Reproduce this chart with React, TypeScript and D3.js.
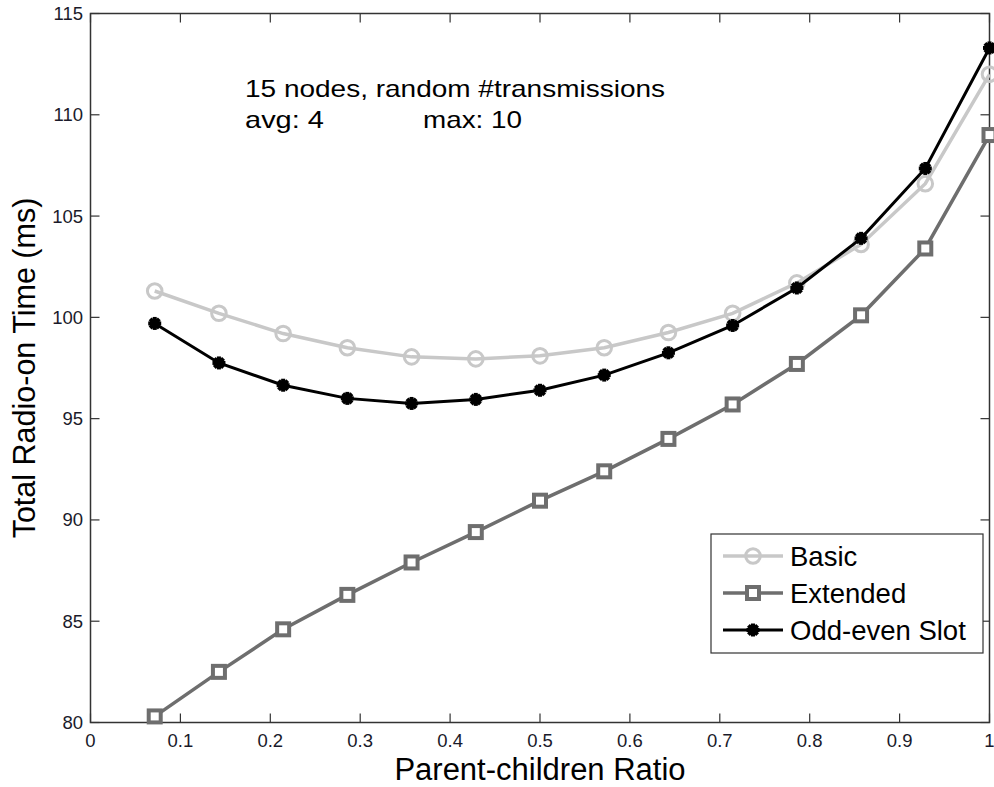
import React from "react";
import * as d3 from "d3";

const ratios = [1, 2, 3, 4, 5, 6, 7, 8, 9, 10, 11, 12, 13, 14].map((k) => k / 14);
const basic = [101.3, 100.2, 99.2, 98.5, 98.05, 97.95, 98.1, 98.5, 99.25, 100.2, 101.7, 103.6, 106.6, 112.0];
const extended = [80.3, 82.5, 84.6, 86.3, 87.9, 89.4, 90.95, 92.4, 94.0, 95.7, 97.7, 100.1, 103.4, 109.0];
const oddEven = [99.7, 97.75, 96.65, 96.0, 95.75, 95.95, 96.4, 97.15, 98.25, 99.6, 101.45, 103.9, 107.35, 113.3];
const xTicks = [0, 0.1, 0.2, 0.3, 0.4, 0.5, 0.6, 0.7, 0.8, 0.9, 1];
const yTicks = [80, 85, 90, 95, 100, 105, 110, 115];
const seriesNames = ["Basic", "Extended", "Odd-even Slot"];

const W = 994, H = 787;
const L = 90.5, R = 989.5, T = 13.5, B = 722.5;
const FONT = "'Liberation Sans', Arial, sans-serif";
const C_BASIC = "#c8c8c8", C_EXT = "#6e6e6e", C_ODD = "#000";

function Marker({ kind, x, y }: { kind: number; x: number; y: number }) {
  if (kind === 0) return <circle cx={x} cy={y} r={7.3} fill="none" stroke={C_BASIC} strokeWidth={3} />;
  if (kind === 1) return <rect x={x - 6} y={y - 6} width={12} height={12} fill="#fff" stroke={C_EXT} strokeWidth={4} />;
  const s = 6.5;
  const d = 4.6;
  return (
    <g stroke={C_ODD} strokeWidth={4} strokeLinecap="butt">
      <circle cx={x} cy={y} r={5.3} fill={C_ODD} stroke="none" />
      <line x1={x - s} y1={y} x2={x + s} y2={y} />
      <line x1={x} y1={y - s} x2={x} y2={y + s} />
      <line x1={x - d} y1={y - d} x2={x + d} y2={y + d} />
      <line x1={x - d} y1={y + d} x2={x + d} y2={y - d} />
    </g>
  );
}

export default function App() {
  const x = d3.scaleLinear().domain([0, 1]).range([L, R]);
  const y = d3.scaleLinear().domain([80, 115]).range([B, T]);
  const line = d3.line<number>().x((_, i) => x(ratios[i])).y((v) => y(v));
  const series = [
    { vals: basic, color: C_BASIC, w: 3.5 },
    { vals: extended, color: C_EXT, w: 3.5 },
    { vals: oddEven, color: C_ODD, w: 3 },
  ];
  const legX = 711, legY = 534, legW = 272, legH = 119;
  return (
    <svg width={W} height={H} style={{ position: "absolute", left: 0, top: 0, background: "#fff" }} fontFamily={FONT}>
      <rect x={0} y={0} width={W} height={H} fill="#fff" />
      {xTicks.map((t) => (
        <g key={"x" + t}>
          <line x1={x(t)} x2={x(t)} y1={B} y2={B - 9} stroke="#333" strokeWidth={1.2} />
          <line x1={x(t)} x2={x(t)} y1={T} y2={T + 9} stroke="#333" strokeWidth={1.2} />
          <text x={x(t)} y={747} fontSize={18.5} textAnchor="middle" fill="#1a1a2a">{t}</text>
        </g>
      ))}
      {yTicks.map((t) => (
        <g key={"y" + t}>
          <line x1={L} x2={L + 9} y1={y(t)} y2={y(t)} stroke="#333" strokeWidth={1.2} />
          <line x1={R} x2={R - 9} y1={y(t)} y2={y(t)} stroke="#333" strokeWidth={1.2} />
          <text x={83} y={y(t) + 6.5} fontSize={18.5} textAnchor="end" fill="#1a1a2a">{t}</text>
        </g>
      ))}
      <rect x={L} y={T} width={R - L} height={B - T} fill="none" stroke="#333" strokeWidth={1.5} />
      {series.map((s, si) => (
        <g key={si}>
          <path d={line(s.vals) || ""} fill="none" stroke={s.color} strokeWidth={s.w} />
          {s.vals.map((v, i) => (
            <Marker key={i} kind={si} x={x(ratios[i])} y={y(v)} />
          ))}
        </g>
      ))}
      <text x={245} y={97} fontSize={24} fill="#000" textLength={420} lengthAdjust="spacingAndGlyphs">15 nodes, random #transmissions</text>
      <text x={245} y={128} fontSize={24} fill="#000" textLength={79} lengthAdjust="spacingAndGlyphs">avg: 4</text>
      <text x={423} y={128} fontSize={24} fill="#000" textLength={99} lengthAdjust="spacingAndGlyphs">max: 10</text>
      <rect x={legX} y={legY} width={legW} height={legH} fill="#fff" stroke="#333" strokeWidth={1.2} />
      {seriesNames.map((n, i) => {
        const ly = 556 + i * 37;
        const s = series[i];
        return (
          <g key={n}>
            <line x1={723} x2={783} y1={ly} y2={ly} stroke={s.color} strokeWidth={s.w} />
            <Marker kind={i} x={753} y={ly} />
            <text x={790} y={ly + 9.5} fontSize={27.5} fill="#000">{n}</text>
          </g>
        );
      })}
      <text x={540} y={780} fontSize={31} textAnchor="middle" fill="#000">Parent-children Ratio</text>
      <text transform={`translate(35, ${(T + B) / 2}) rotate(-90)`} fontSize={30.5} textAnchor="middle" fill="#000">Total Radio-on Time (ms)</text>
    </svg>
  );
}
